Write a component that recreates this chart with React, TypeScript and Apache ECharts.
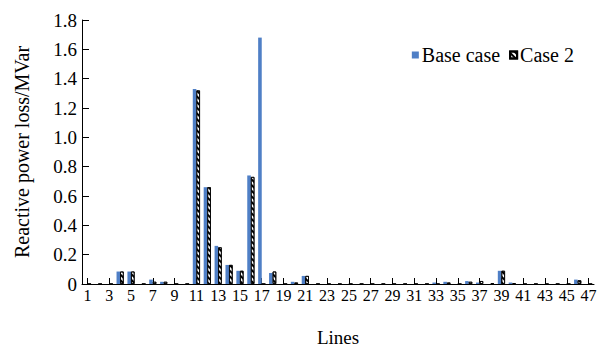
import React, { useEffect, useRef } from "react";
import * as echarts from "echarts";

const categories: string[] = Array.from({ length: 47 }, (_, i) => String(i + 1));

const baseCase: number[] = [
  0, 0, 0, 0.085, 0.085, 0, 0.03, 0.015, 0, 0,
  1.33, 0.66, 0.26, 0.13, 0.09, 0.74, 1.68, 0.075, 0, 0.015,
  0.055, 0, 0, 0, 0, 0, 0, 0, 0, 0,
  0, 0, 0.01, 0.015, 0, 0.02, 0.01, 0, 0.09, 0.01,
  0, 0, 0, 0, 0, 0.03, 0,
];

const case2: number[] = [
  0, 0, 0, 0.085, 0.085, 0, 0.015, 0.015, 0, 0,
  1.32, 0.66, 0.25, 0.13, 0.09, 0.73, 0, 0.085, 0, 0.01,
  0.055, 0, 0, 0, 0, 0, 0, 0, 0, 0,
  0, 0, 0, 0.01, 0, 0.015, 0.02, 0.005, 0.09, 0.005,
  0, 0, 0, 0, 0, 0.025, 0,
];

const FONT = "'Liberation Serif', 'Times New Roman', serif";

export default function App() {
  const ref = useRef<HTMLDivElement>(null);
  useEffect(() => {
    document.body.style.margin = "0";
    if (!ref.current) return;
    const chart = echarts.init(ref.current, null, { renderer: "svg" });
    const hatch = {
      symbol: "rect",
      symbolSize: 1,
      color: "#000",
      backgroundColor: "#fff",
      dashArrayX: [1, 0],
      dashArrayY: [2, 2],
      rotation: Math.PI / 4,
    };
    chart.setOption({
      animation: false,
      textStyle: { fontFamily: FONT, color: "#000" },
      grid: { left: 82, right: 12, top: 20, bottom: 60, containLabel: false },
      legend: {
        top: 40,
        right: 27,
        itemWidth: 7,
        itemHeight: 7,
        itemGap: 9,
        textStyle: { fontFamily: FONT, fontSize: 20, color: "#000", padding: [0, 0, 0, -2] },
        data: [
          { name: "Base case", icon: "rect" },
          { name: "Case 2", icon: "rect" },
        ],
      },
      xAxis: {
        type: "category",
        data: categories,
        name: "Lines",
        nameLocation: "middle",
        nameGap: 44,
        nameTextStyle: { fontFamily: FONT, fontSize: 19, color: "#000" },
        axisLine: { lineStyle: { color: "#000", width: 1 } },
        axisTick: { show: true, inside: true, alignWithLabel: true, interval: 1, length: 6, lineStyle: { color: "#000" } },
        axisLabel: { interval: 1, margin: 3, fontFamily: FONT, fontSize: 16, color: "#000" },
      },
      yAxis: {
        type: "value",
        min: 0,
        max: 1.8,
        interval: 0.2,
        name: "Reactive power loss/MVar",
        nameLocation: "middle",
        nameGap: 50,
        nameTextStyle: { fontFamily: FONT, fontSize: 20, color: "#000" },
        axisLine: { show: true, lineStyle: { color: "#000", width: 1 } },
        axisTick: { show: true, inside: true, length: 7, lineStyle: { color: "#000" } },
        splitLine: { show: false },
        axisLabel: {
          margin: 5,
          fontFamily: FONT,
          fontSize: 19,
          color: "#000",
          formatter: (v: number) => (v === 0 ? "0" : v.toFixed(1)),
        },
      },
      series: [
        {
          name: "Base case",
          type: "bar",
          data: baseCase,
          barGap: "0%",
          barCategoryGap: "34%",
          itemStyle: { color: "#4f7fc6" },
        },
        {
          name: "Case 2",
          type: "bar",
          data: case2,
          itemStyle: { color: "#fff", borderColor: "#000", borderWidth: 0.8, decal: hatch },
        },
      ],
    });
    return () => chart.dispose();
  }, []);
  return <div ref={ref} style={{ width: 606, height: 352 }} />;
}
